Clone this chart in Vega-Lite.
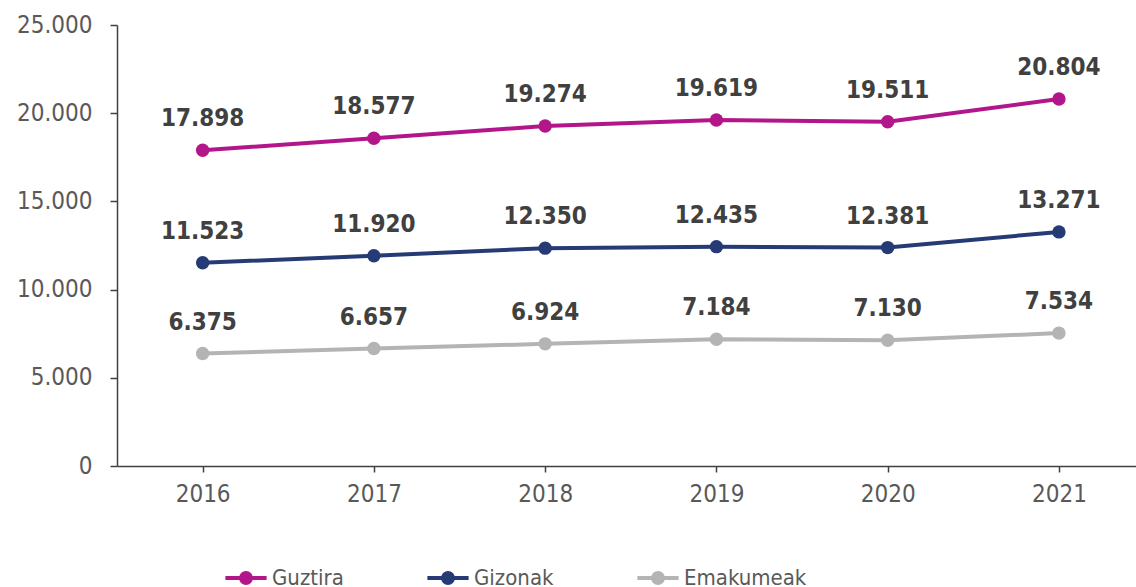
{
  "$schema": "https://vega.github.io/schema/vega-lite/v6.json",
  "width": 1019,
  "height": 441,
  "autosize": {"type": "none"},
  "padding": {"left": 117, "top": 25, "right": 0, "bottom": 121},
  "config": {
    "locale": {"number": {"decimal": ",", "thousands": ".", "grouping": [3], "currency": ["", " €"]}},
    "view": {"stroke": null},
    "font": "DejaVu Sans Condensed"
  },
  "data": {
    "values": [
      {"year": 2016, "serie": "Guztira", "value": 17898},
      {"year": 2017, "serie": "Guztira", "value": 18577},
      {"year": 2018, "serie": "Guztira", "value": 19274},
      {"year": 2019, "serie": "Guztira", "value": 19619},
      {"year": 2020, "serie": "Guztira", "value": 19511},
      {"year": 2021, "serie": "Guztira", "value": 20804},
      {"year": 2016, "serie": "Gizonak", "value": 11523},
      {"year": 2017, "serie": "Gizonak", "value": 11920},
      {"year": 2018, "serie": "Gizonak", "value": 12350},
      {"year": 2019, "serie": "Gizonak", "value": 12435},
      {"year": 2020, "serie": "Gizonak", "value": 12381},
      {"year": 2021, "serie": "Gizonak", "value": 13271},
      {"year": 2016, "serie": "Emakumeak", "value": 6375},
      {"year": 2017, "serie": "Emakumeak", "value": 6657},
      {"year": 2018, "serie": "Emakumeak", "value": 6924},
      {"year": 2019, "serie": "Emakumeak", "value": 7184},
      {"year": 2020, "serie": "Emakumeak", "value": 7130},
      {"year": 2021, "serie": "Emakumeak", "value": 7534}
    ]
  },
  "encoding": {
    "x": {
      "field": "year", "type": "quantitative",
      "scale": {"domain": [2015.5, 2021.45], "nice": false, "zero": false},
      "axis": {
        "title": null, "values": [2016, 2017, 2018, 2019, 2020, 2021], "format": "d",
        "grid": false, "domainColor": "#404040", "domainWidth": 1.5,
        "tickColor": "#404040", "tickWidth": 1.5, "tickSize": 6,
        "labelFontSize": 24, "labelColor": "#595959", "labelPadding": 10, "labelFont": "DejaVu Sans Condensed"
      }
    },
    "y": {
      "field": "value", "type": "quantitative",
      "scale": {"domain": [0, 25000], "nice": false},
      "axis": {
        "title": null, "values": [0, 5000, 10000, 15000, 20000, 25000], "format": ",d",
        "grid": false, "domainColor": "#404040", "domainWidth": 1.5,
        "tickColor": "#404040", "tickWidth": 1.5, "tickSize": 7,
        "labelFontSize": 24, "labelColor": "#595959", "labelPadding": 18, "labelFont": "DejaVu Sans Condensed"
      }
    },
    "color": {
      "field": "serie", "type": "nominal",
      "scale": {"domain": ["Guztira", "Gizonak", "Emakumeak"], "range": ["#B3168B", "#263A75", "#B4B4B4"]},
      "legend": {
        "title": null, "orient": "none", "direction": "horizontal",
        "legendX": 106, "legendY": 530,
        "symbolType": "M-1,0H1M0.24,0A0.24,0.24 0 1,1 -0.24,0A0.24,0.24 0 1,1 0.24,0",
        "symbolSize": 1700, "symbolStrokeWidth": 4,
        "labelFontSize": 22, "labelColor": "#595959", "labelOffset": 3,
        "columnPadding": 75, "labelFont": "DejaVu Sans Condensed"
      }
    }
  },
  "layer": [
    {"mark": {"type": "line", "strokeWidth": 4}},
    {"mark": {"type": "point", "filled": true, "size": 180, "opacity": 1}},
    {
      "mark": {"type": "text", "dy": -24, "baseline": "alphabetic", "fontWeight": "bold", "fontSize": 24, "font": "DejaVu Sans Condensed"},
      "encoding": {
        "text": {"field": "value", "type": "quantitative", "format": ",d"},
        "color": {"value": "#404040"}
      }
    }
  ]
}
